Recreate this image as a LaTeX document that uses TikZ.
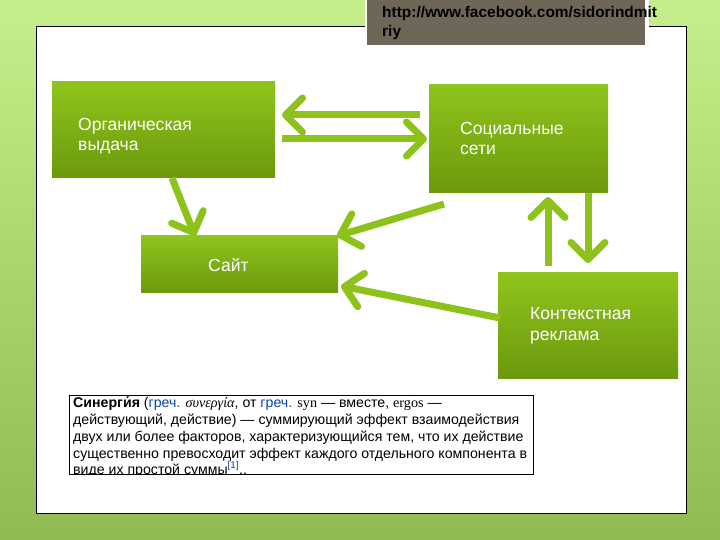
\documentclass[tikz,border=0pt]{standalone}
\usepackage{fontspec}
\setmainfont{Liberation Sans}
\newfontfamily\serifgr{Liberation Serif}
\usetikzlibrary{arrows.meta}
\definecolor{bgtop}{HTML}{C6EE8A}
\definecolor{bgbot}{HTML}{92BA52}
\definecolor{boxtop}{HTML}{8FC41C}
\definecolor{boxbot}{HTML}{6C990D}
\definecolor{arrgreen}{HTML}{8CC21A}
\definecolor{urlgray}{HTML}{6E6657}
\definecolor{wikiblue}{HTML}{0645AD}
\tikzset{
  gbox/.style={top color=boxtop, bottom color=boxbot, draw=none},
  glabel/.style={text=white, anchor=base west, inner sep=0pt, font=\fontsize{17.6}{21}\selectfont, align=left},
  garrow/.style={line width=7bp, draw=arrgreen, -{Straight Barb[length=17bp,width=34bp,line width=7bp,round]}},
  wline/.style={anchor=base west, inner sep=0pt, font=\fontsize{14.2}{17}\selectfont}
}
\begin{document}
\begin{tikzpicture}[x=1bp,y=-1bp]
\useasboundingbox (0,0) rectangle (720,540);
\shade[top color=bgtop, bottom color=bgbot] (0,0) rectangle (720,540);
% white frame
\draw[fill=white, draw=black, line width=1bp] (36,27) rectangle (686,513);
% url box
\fill[white] (365,0) rectangle (649,48);
\fill[urlgray] (367,0) rectangle (645,45);
\node[anchor=base west, inner sep=0pt, font=\bfseries\fontsize{15.5}{20}\selectfont, align=left] (url) at (382,37) {http://www.facebook.com/sidorindmit\\riy};
% boxes
\path[gbox] (52,82) rectangle (275,178);
\node[glabel] (org) at (78,151) {Органическая\\выдача};
\path[gbox] (429,85) rectangle (608,193);
\node[glabel] (soc) at (460,155) {Социальные\\сети};
\path[gbox] (141,236) rectangle (338,292);
\node[glabel] (site) at (208,272) {Сайт};
\path[gbox] (498,272) rectangle (678,378);
\node[glabel] (ctx) at (530,340) {Контекстная\\реклама};
% arrow endpoints
\coordinate (a1s) at (420,115);
\coordinate (a1e) at (282,115);
\coordinate (a2s) at (282,139);
\coordinate (a2e) at (427,139);
\coordinate (a3s) at (172,178);
\coordinate (a3e) at (195,236);
\coordinate (a4s) at (444,204);
\coordinate (a4e) at (337,236);
\coordinate (a5s) at (500,318);
\coordinate (a5e) at (341,286);
\coordinate (a6s) at (548,266);
\coordinate (a6e) at (548,197);
\coordinate (a7s) at (588,193);
\coordinate (a7e) at (588,263);
\draw[garrow] (a1s) -- (a1e);
\draw[garrow] (a2s) -- (a2e);
\draw[garrow] (a3s) -- (a3e);
\draw[garrow] (a4s) -- (a4e);
\draw[garrow] (a5s) -- (a5e);
\draw[garrow] (a6s) -- (a6e);
\draw[garrow] (a7s) -- (a7e);
% wiki text box
\draw[fill=white, draw=black, line width=1bp] (69,395) rectangle (533,474);
\begin{scope}
\clip (69.5,395.5) rectangle (532.5,473.5);
\node[wline] (w1) at (73,407) {\textbf{Синерги́я} (\textcolor{wikiblue}{греч.} {\serifgr\itshape συνεργία}, от \textcolor{wikiblue}{греч.} {\serifgr syn} — вместе, {\serifgr ergos} —};
\node[wline] (w2) at (73,424) {действующий, действие) — суммирующий эффект взаимодействия};
\node[wline] (w3) at (73,441) {двух или более факторов, характеризующийся тем, что их действие};
\node[wline] (w4) at (73,458) {существенно превосходит эффект каждого отдельного компонента в};
\node[wline] (w5) at (73,474) {виде их простой суммы\textsuperscript{\textcolor{wikiblue}{[1]}}..};
\end{scope}
\end{tikzpicture}
\end{document}
